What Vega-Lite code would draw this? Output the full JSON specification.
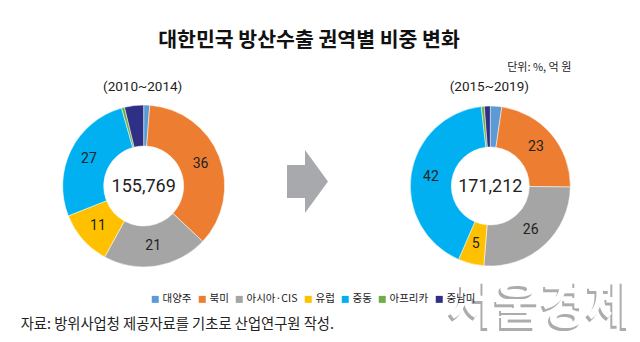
{
  "$schema": "https://vega.github.io/schema/vega-lite/v6.json",
  "width": 520,
  "height": 172,
  "autosize": {"type": "none"},
  "padding": {"left": 57, "top": 100, "right": 63, "bottom": 70},
  "background": "white",
  "config": {"view": {"stroke": null}, "font": "Noto Sans CJK KR"},
  "title": {
    "text": "대한민국 방산수출 권역별 비중 변화",
    "font": "Noto Sans CJK KR",
    "fontSize": 20.5,
    "fontWeight": "bold",
    "color": "#111111",
    "anchor": "middle",
    "frame": "group",
    "dx": -8,
    "offset": 11
  },
  "datasets": {
    "share": [
      {"period": "2010~2014", "region": "대양주", "rank": 1, "value": 1.2},
      {"period": "2010~2014", "region": "북미", "rank": 2, "value": 35.8},
      {"period": "2010~2014", "region": "아시아·CIS", "rank": 3, "value": 21.0},
      {"period": "2010~2014", "region": "유럽", "rank": 4, "value": 11.0},
      {"period": "2010~2014", "region": "중동", "rank": 5, "value": 26.6},
      {"period": "2010~2014", "region": "아프리카", "rank": 6, "value": 0.6},
      {"period": "2010~2014", "region": "중남미", "rank": 7, "value": 3.8},
      {"period": "2015~2019", "region": "대양주", "rank": 1, "value": 2.3},
      {"period": "2015~2019", "region": "북미", "rank": 2, "value": 22.9},
      {"period": "2015~2019", "region": "아시아·CIS", "rank": 3, "value": 26.1},
      {"period": "2015~2019", "region": "유럽", "rank": 4, "value": 5.2},
      {"period": "2015~2019", "region": "중동", "rank": 5, "value": 41.7},
      {"period": "2015~2019", "region": "아프리카", "rank": 6, "value": 0.6},
      {"period": "2015~2019", "region": "중남미", "rank": 7, "value": 1.2}
    ],
    "periods": [
      {"period": "2010~2014", "label": "(2010~2014)", "total": 155769},
      {"period": "2015~2019", "label": "(2015~2019)", "total": 171212}
    ],
    "arrow": [{"period": "→"}]
  },
  "layer": [
    {
      "data": {"values": [{"mark": "서울경제"}]},
      "mark": {"type": "text", "font": "Noto Sans CJK KR", "fontSize": 50, "fontWeight": "bold", "color": "#8a8a8a", "opacity": 0.7, "dx": 48, "dy": 125, "align": "center", "baseline": "middle"},
      "encoding": {
        "x": {"datum": "2015~2019", "type": "nominal", "scale": {"type": "point", "domain": ["2010~2014", "→", "2015~2019"], "padding": 0.5}, "axis": null},
        "text": {"field": "mark"}
      }
    },
    {
      "data": {"values": [{"mark": "서울경제"}]},
      "mark": {"type": "text", "font": "Noto Sans CJK KR", "fontSize": 50, "fontWeight": "bold", "color": "#ffffff", "dx": 50, "dy": 122, "align": "center", "baseline": "middle"},
      "encoding": {
        "x": {"datum": "2015~2019", "type": "nominal", "scale": {"type": "point", "domain": ["2010~2014", "→", "2015~2019"], "padding": 0.5}, "axis": null},
        "text": {"field": "mark"}
      }
    },
    {
      "data": {"name": "share"},
      "transform": [{"filter": "datum.period === '2010~2014'"}],
      "layer": [
        {
          "mark": {"type": "arc", "radius": 81, "radius2": 40, "stroke": "white", "strokeWidth": 0.5},
          "encoding": {
            "x": {"field": "period", "type": "nominal", "scale": {"type": "point", "domain": ["2010~2014", "→", "2015~2019"], "padding": 0.5}, "axis": null},
            "theta": {"field": "value", "type": "quantitative", "stack": true, "scale": {"domain": [0, 100]}},
            "order": {"field": "rank", "type": "quantitative"},
            "color": {
              "field": "region",
              "type": "nominal",
              "scale": {
                "domain": ["대양주", "북미", "아시아·CIS", "유럽", "중동", "아프리카", "중남미"],
                "range": ["#5B9BD5", "#ED7D31", "#A5A5A5", "#FFC000", "#00B0F0", "#70AD47", "#2E3085"]
              },
              "legend": {
                "orient": "none",
                "legendX": 93,
                "legendY": 194,
                "direction": "horizontal",
                "title": null,
                "symbolType": "square",
                "symbolSize": 49,
                "symbolStrokeWidth": 0,
                "labelFont": "Noto Sans CJK KR",
                "labelFontSize": 10.5,
                "labelColor": "#222222",
                "labelOffset": 2,
                "columnPadding": 5
              }
            }
          }
        },
        {
          "mark": {"type": "text", "radius": 61, "font": "Roboto", "fontSize": 14, "color": "#222222", "align": "center", "baseline": "middle"},
          "encoding": {
            "x": {"field": "period", "type": "nominal", "scale": {"type": "point", "domain": ["2010~2014", "→", "2015~2019"], "padding": 0.5}, "axis": null},
            "theta": {"field": "value", "type": "quantitative", "stack": true, "scale": {"domain": [0, 100]}},
            "order": {"field": "rank", "type": "quantitative"},
            "detail": {"field": "region"},
            "text": {"condition": {"test": "datum.value < 4.5", "value": ""}, "field": "value", "type": "quantitative", "format": ".0f"}
          }
        }
      ]
    },
    {
      "data": {"name": "share"},
      "transform": [{"filter": "datum.period === '2015~2019'"}],
      "layer": [
        {
          "mark": {"type": "arc", "radius": 80, "radius2": 39, "stroke": "white", "strokeWidth": 0.5},
          "encoding": {
            "x": {"field": "period", "type": "nominal", "scale": {"type": "point", "domain": ["2010~2014", "→", "2015~2019"], "padding": 0.5}, "axis": null},
            "theta": {"field": "value", "type": "quantitative", "stack": true, "scale": {"domain": [0, 100]}},
            "order": {"field": "rank", "type": "quantitative"},
            "color": {"field": "region", "type": "nominal"}
          }
        },
        {
          "mark": {"type": "text", "radius": 60, "font": "Roboto", "fontSize": 14, "color": "#222222", "align": "center", "baseline": "middle"},
          "encoding": {
            "x": {"field": "period", "type": "nominal", "scale": {"type": "point", "domain": ["2010~2014", "→", "2015~2019"], "padding": 0.5}, "axis": null},
            "theta": {"field": "value", "type": "quantitative", "stack": true, "scale": {"domain": [0, 100]}},
            "order": {"field": "rank", "type": "quantitative"},
            "detail": {"field": "region"},
            "text": {"condition": {"test": "datum.value < 4.5", "value": ""}, "field": "value", "type": "quantitative", "format": ".0f"}
          }
        }
      ]
    },
    {
      "data": {"name": "periods"},
      "layer": [
        {
          "mark": {"type": "text", "font": "Roboto", "fontSize": 13.5, "color": "#222222", "align": "center", "baseline": "middle", "dy": -99, "dx": -1},
          "encoding": {
            "x": {"field": "period", "type": "nominal", "scale": {"type": "point", "domain": ["2010~2014", "→", "2015~2019"], "padding": 0.5}, "axis": null},
            "text": {"field": "label"}
          }
        },
        {
          "mark": {"type": "text", "font": "Roboto", "fontSize": 18, "color": "#222222", "align": "center", "baseline": "middle", "dy": 1},
          "encoding": {
            "x": {"field": "period", "type": "nominal", "scale": {"type": "point", "domain": ["2010~2014", "→", "2015~2019"], "padding": 0.5}, "axis": null},
            "text": {"field": "total", "type": "quantitative", "format": ","}
          }
        }
      ]
    },
    {
      "data": {"name": "arrow"},
      "mark": {
        "type": "point",
        "filled": true,
        "color": "#A7A9AC",
        "opacity": 1,
        "size": 3969,
        "shape": "M-0.952,-0.667L-0.381,-0.667L-0.381,-1.143L0.349,-0.143L-0.381,0.857L-0.381,0.381L-0.952,0.381Z"
      },
      "encoding": {
        "x": {"field": "period", "type": "nominal", "scale": {"type": "point", "domain": ["2010~2014", "→", "2015~2019"], "padding": 0.5}, "axis": null}
      }
    },
    {
      "data": {"values": [{"note": "단위: %, 억 원"}]},
      "mark": {"type": "text", "font": "Noto Sans CJK KR", "fontSize": 11, "color": "#222222", "align": "right", "baseline": "middle", "dx": 81, "dy": -118},
      "encoding": {
        "x": {"datum": "2015~2019", "type": "nominal", "scale": {"type": "point", "domain": ["2010~2014", "→", "2015~2019"], "padding": 0.5}, "axis": null},
        "text": {"field": "note"}
      }
    },
    {
      "data": {"values": [{"note": "자료: 방위사업청 제공자료를 기초로 산업연구원 작성."}]},
      "mark": {"type": "text", "font": "Noto Sans CJK KR", "fontSize": 14.3, "color": "#222222", "align": "left", "baseline": "middle", "dx": -123, "dy": 139},
      "encoding": {
        "x": {"datum": "2010~2014", "type": "nominal", "scale": {"type": "point", "domain": ["2010~2014", "→", "2015~2019"], "padding": 0.5}, "axis": null},
        "text": {"field": "note"}
      }
    }
  ]
}
